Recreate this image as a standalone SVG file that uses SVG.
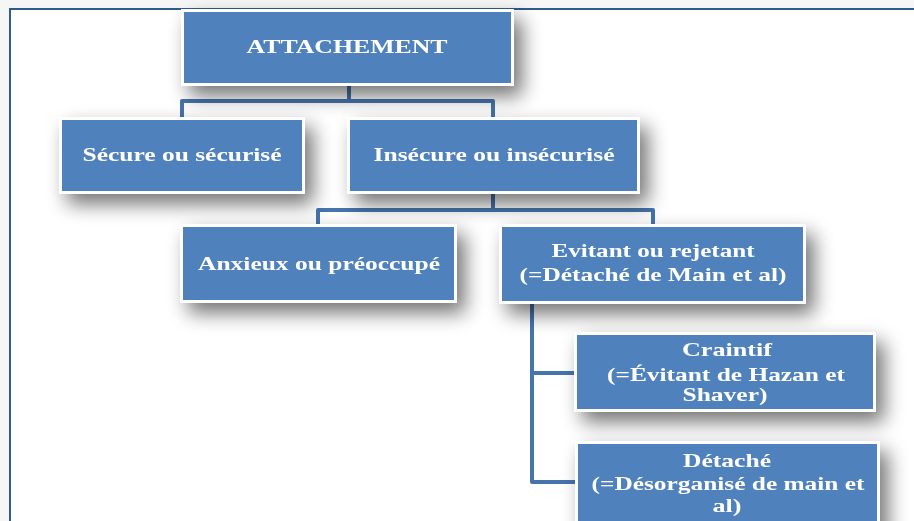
<svg xmlns="http://www.w3.org/2000/svg" width="914" height="521" viewBox="0 0 914 521">
<defs>
<filter id="sh" x="-30%" y="-40%" width="170%" height="200%">
<feGaussianBlur in="SourceAlpha" stdDeviation="10"/>
<feOffset dx="8" dy="10" result="b"/>
<feComponentTransfer><feFuncA type="linear" slope="0.55"/></feComponentTransfer>
<feMerge><feMergeNode/><feMergeNode in="SourceGraphic"/></feMerge>
</filter>
</defs>
<style>
.box{fill:#4f81bd;stroke:#ffffff;stroke-width:3}
.t{font-family:"Liberation Serif","Times New Roman",serif;font-weight:bold;font-size:19px;fill:#ffffff;text-anchor:middle}
.c{fill:none;stroke:#4674ad;stroke-width:4;stroke-linejoin:round}
</style>
<rect x="0" y="0" width="914" height="521" fill="#f6f6f6"/>
<rect x="10" y="9" width="920" height="530" fill="#ffffff" stroke="#2f5b8e" stroke-width="2"/>
<g id="connectors">
<path class="c" d="M349 86 V101 M182 118 V101 H493 V118"/>
<path class="c" d="M493 194 V210 M318 226 V210 H653 V226"/>
<path class="c" d="M532 304 V482 H576 M532 373 H576"/>
</g>
<g id="attachement" filter="url(#sh)">
<rect class="box" x="182.5" y="10.5" width="330" height="74"/>
<text class="t" x="347" y="53" textLength="201" lengthAdjust="spacingAndGlyphs" style="font-size:18px">ATTACHEMENT</text>
</g>
<g id="secure" filter="url(#sh)">
<rect class="box" x="60.5" y="118.5" width="243" height="74"/>
<text class="t" x="182" y="161" textLength="199" lengthAdjust="spacingAndGlyphs">Sécure ou sécurisé</text>
</g>
<g id="insecure" filter="url(#sh)">
<rect class="box" x="348.5" y="118.5" width="290" height="74"/>
<text class="t" x="494" y="161" textLength="241" lengthAdjust="spacingAndGlyphs">Insécure ou insécurisé</text>
</g>
<g id="anxieux" filter="url(#sh)">
<rect class="box" x="181.5" y="225.5" width="274" height="76"/>
<text class="t" x="319" y="270" textLength="242" lengthAdjust="spacingAndGlyphs">Anxieux ou préoccupé</text>
</g>
<g id="evitant" filter="url(#sh)">
<rect class="box" x="500.5" y="225.5" width="304" height="77"/>
<text class="t" x="653" y="257" textLength="203" lengthAdjust="spacingAndGlyphs">Evitant ou rejetant</text>
<text class="t" x="653" y="281" textLength="267" lengthAdjust="spacingAndGlyphs">(=Détaché de Main et  al)</text>
</g>
<g id="craintif" filter="url(#sh)">
<rect class="box" x="575.5" y="333.5" width="299" height="77"/>
<text class="t" x="727" y="356" textLength="90" lengthAdjust="spacingAndGlyphs">Craintif</text>
<text class="t" x="726" y="381" textLength="238" lengthAdjust="spacingAndGlyphs">(=Évitant de Hazan et</text>
<text class="t" x="725" y="401" textLength="85" lengthAdjust="spacingAndGlyphs">Shaver)</text>
</g>
<g id="detache" filter="url(#sh)">
<rect class="box" x="576.5" y="442.5" width="302" height="95"/>
<text class="t" x="727" y="467" textLength="88" lengthAdjust="spacingAndGlyphs">Détaché</text>
<text class="t" x="728" y="490" textLength="273" lengthAdjust="spacingAndGlyphs" style="font-size:18px">(=Désorganisé de main et</text>
<text class="t" x="727" y="512" textLength="29" lengthAdjust="spacingAndGlyphs" style="font-size:18px">al)</text>
</g>
</svg>
